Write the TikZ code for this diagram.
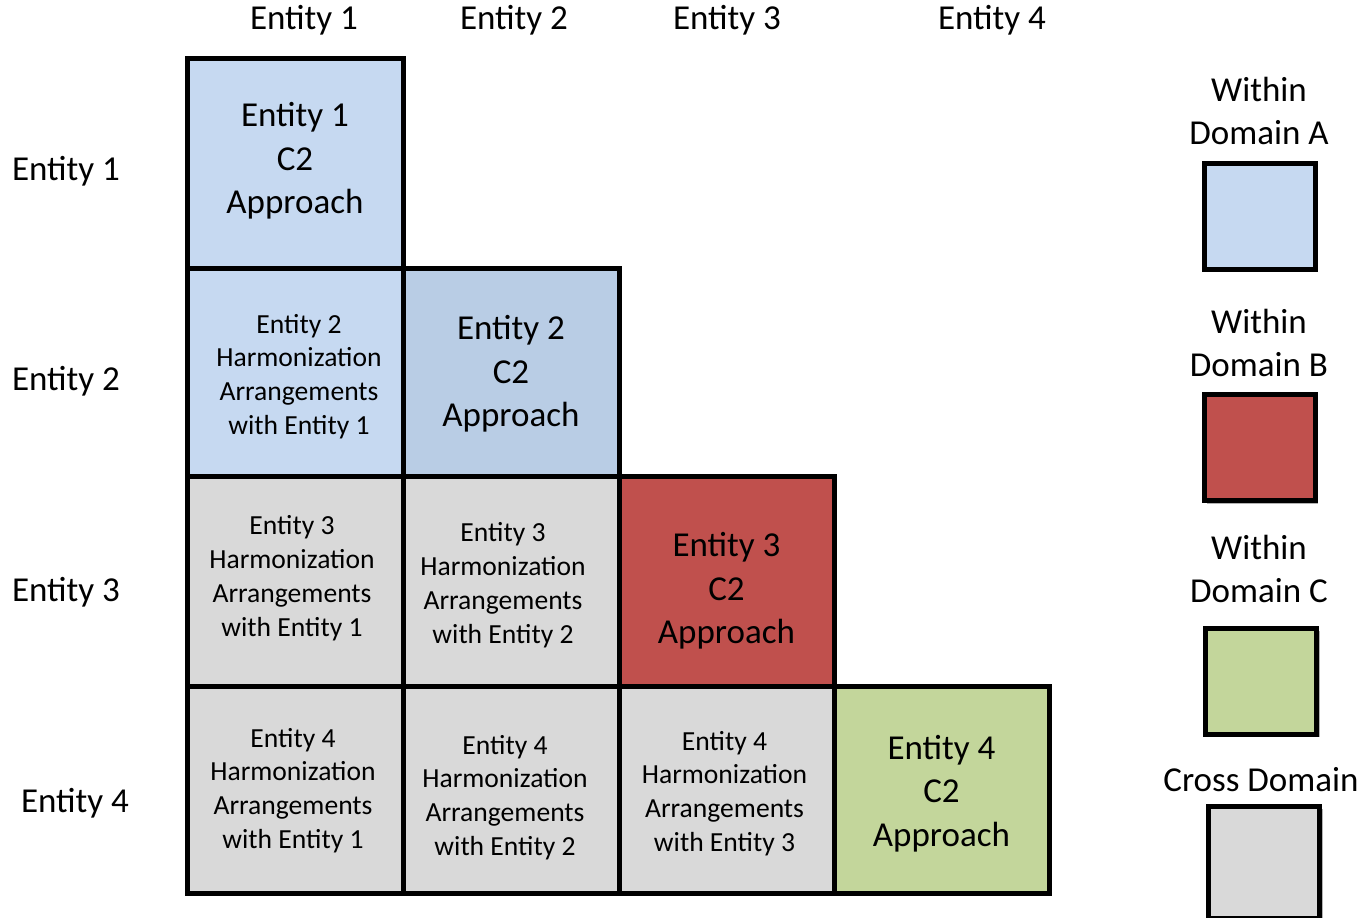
\documentclass[tikz,border=0pt]{standalone}
\usepackage{fontspec}
\setmainfont{Carlito}
\usetikzlibrary{shadows,calc}
\definecolor{blueA}{HTML}{C6D9F1}
\definecolor{blueB}{HTML}{B9CDE5}
\definecolor{redB}{HTML}{C0504D}
\definecolor{greenC}{HTML}{C3D69B}
\definecolor{grayX}{HTML}{D9D9D9}
\tikzset{
  cell/.style={draw=black, line width=2.5pt, inner sep=0pt, outer sep=0pt,
    minimum width=108pt, minimum height=104pt,
    drop shadow={shadow xshift=1.5pt, shadow yshift=-1.5pt, opacity=0.3, fill=black}},
  big/.style={font=\fontsize{17.5}{21.7}\selectfont, align=center, inner sep=0pt},
  small/.style={font=\fontsize{13.8}{16.9}\selectfont, align=center, inner sep=0pt},
  lab/.style={font=\fontsize{17.5}{21.5}\selectfont, align=center, inner sep=0pt},
  legbox/.style={draw=black, line width=2.5pt, inner sep=0pt, outer sep=0pt,
    minimum width=55.5pt, minimum height=53pt,
    drop shadow={shadow xshift=1.5pt, shadow yshift=-1.5pt, opacity=0.3, fill=black}}
}
\begin{document}
\begin{tikzpicture}[x=0.5pt,y=-0.5pt]
\useasboundingbox (0,0) rectangle (1365,917);
% column labels
\node[lab] (c1) at (304,20) {Entity 1};
\node[lab] (c2) at (514,20) {Entity 2};
\node[lab] (c3) at (727,20) {Entity 3};
\node[lab] (c4) at (992,20) {Entity 4};
% row labels
\node[lab] (r1) at (66,171) {Entity 1};
\node[lab] (r2) at (66,381) {Entity 2};
\node[lab] (r3) at (66,592) {Entity 3};
\node[lab] (r4) at (75,803) {Entity 4};
% cells
\node[cell, fill=blueA, minimum height=105pt] (a11) at (295,163) {};
\node[cell, fill=blueA] (a21) at (295,372) {};
\node[cell, fill=blueB] (a22) at (511,372) {};
\node[cell, fill=grayX, minimum height=105pt] (a31) at (295,581) {};
\node[cell, fill=grayX, minimum height=105pt] (a32) at (511,581) {};
\node[cell, fill=redB, minimum height=105pt, minimum width=107.5pt] (a33) at (726.5,581) {};
\node[cell, fill=grayX, minimum height=103.5pt] (a41) at (295,789.5) {};
\node[cell, fill=grayX, minimum height=103.5pt] (a42) at (511,789.5) {};
\node[cell, fill=grayX, minimum height=103.5pt, minimum width=107.5pt] (a43) at (726.5,789.5) {};
\node[cell, fill=greenC, minimum height=103.5pt, minimum width=107.5pt] (a44) at (941.5,789.5) {};
% cell texts
\node[big] (t11) at ($(a11)+(0,-2)$) {Entity 1\\C2\\Approach};
\node[small] (t21) at ($(a21)+(4,4.5)$) {Entity 2\\Harmonization\\Arrangements\\with Entity 1};
\node[big] (t22) at ($(a22)+(0,2)$) {Entity 2\\C2\\Approach};
\node[small] (t31) at ($(a31)+(-3,-3)$) {Entity 3\\Harmonization\\Arrangements\\with Entity 1};
\node[small] (t32) at ($(a32)+(-8,4)$) {Entity 3\\Harmonization\\Arrangements\\with Entity 2};
\node[big] (t33) at ($(a33)+(0,10)$) {Entity 3\\C2\\Approach};
\node[small] (t41) at ($(a41)+(-2,1)$) {Entity 4\\Harmonization\\Arrangements\\with Entity 1};
\node[small] (t42) at ($(a42)+(-6,8)$) {Entity 4\\Harmonization\\Arrangements\\with Entity 2};
\node[small] (t43) at ($(a43)+(-2,4)$) {Entity 4\\Harmonization\\Arrangements\\with Entity 3};
\node[big] (t44) at ($(a44)+(0,4)$) {Entity 4\\C2\\Approach};
% legend
\node[lab] (lA) at (1259,111) {Within\\Domain A};
\node[legbox, fill=blueA] (bA) at (1259.5,216) {};
\node[lab] (lB) at (1259,343) {Within\\Domain B};
\node[legbox, fill=redB] (bB) at (1259.5,447.5) {};
\node[lab] (lC) at (1259,569) {Within\\Domain C};
\node[legbox, fill=greenC] (bC) at (1261,681) {};
\node[lab] (lX) at (1261,780) {Cross Domain};
\node[legbox, fill=grayX, minimum height=56pt] (bX) at (1264,862) {};
\end{tikzpicture}
\end{document}
